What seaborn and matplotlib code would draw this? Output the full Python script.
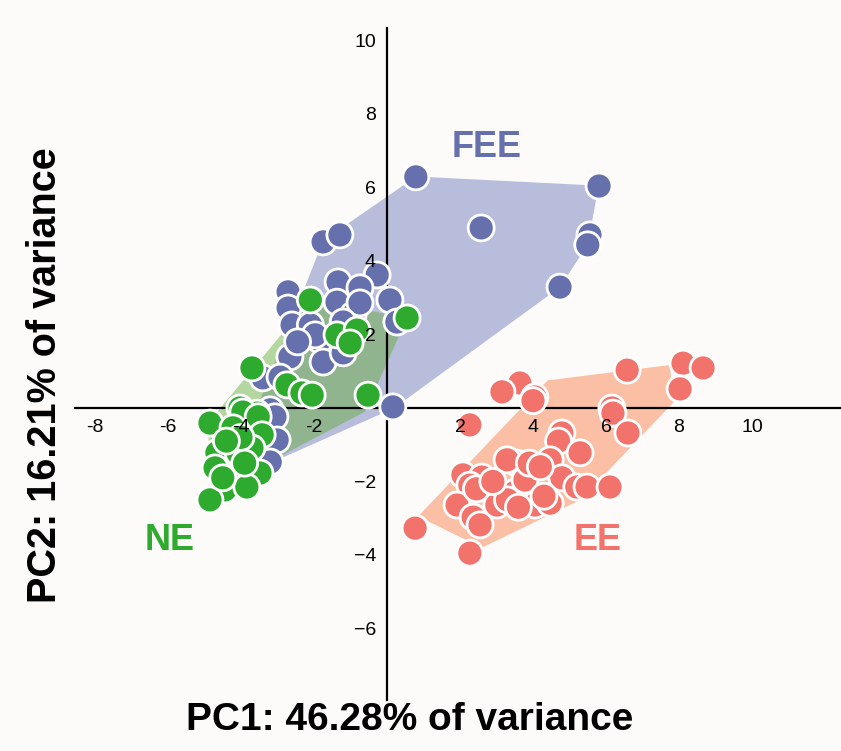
import numpy as np
import pandas as pd
import matplotlib
matplotlib.use("Agg")
import matplotlib.pyplot as plt
import seaborn as sns

# ---------------- data ----------------
fee_x = [0.79, 5.81, 2.58, 5.56, 5.50, 4.74, -1.75, -1.29, 0.16,
         -0.27, -1.34, -0.74, -2.71, 0.08, -1.37, -2.71, 0.27, -2.60, -0.93,
         -2.10, -1.84, -2.66, -1.75, -1.20, -3.40, -2.93, -3.20, -3.07, -3.01,
         -3.20, -0.74, -1.20, -1.97, -2.45]
fee_y = [6.29, 6.04, 4.90, 4.71, 4.44, 3.29, 4.52, 4.71, 0.03,
         3.62, 3.43, 3.27, 3.16, 2.94, 2.88, 2.72, 2.34, 2.26, 2.53,
         2.26, 1.85, 1.39, 1.25, 1.50, 0.82, 0.84, -0.05, -0.24, -0.87,
         -1.47, 2.86, 2.34, 1.99, 1.80]

ne_x = [-2.10, -1.37, -0.82, -1.01, 0.55, -3.70, -2.74, -2.33, -2.05, -0.52,
        -4.03, -3.56, -4.85, -3.95, -3.53, -4.22, -3.42, -4.66, -4.08, -3.70,
        -4.71, -3.84, -4.22, -3.48, -4.44, -3.84, -4.85, -4.00, -4.40, -3.90,
        -4.50]
ne_y = [2.94, 1.99, 2.12, 1.77, 2.45, 1.09, 0.63, 0.41, 0.35, 0.35,
        0.00, -0.14, -0.41, -0.11, -0.24, -0.54, -0.73, -1.22, -1.22, -1.09,
        -1.63, -1.69, -1.90, -1.77, -2.23, -2.15, -2.50, -0.80, -0.90, -1.50,
        -1.90]

ee_x = [3.64, 3.15, 4.05, 4.00, 2.27, 4.79, 4.70, 3.56, 3.29, 4.47,
        2.08, 2.60, 2.27, 4.79, 5.20, 3.51, 3.78, 1.92, 3.01, 2.36,
        2.55, 4.05, 4.47, 0.77, 2.27, 6.58, 8.11, 8.66, 8.03, 6.16,
        6.19, 6.60, 5.29, 5.48, 6.11, 2.45, 3.90, 4.20, 3.30, 2.90,
        4.30, 3.60]
ee_y = [0.68, 0.44, 0.30, 0.20, -0.46, -0.68, -0.90, -1.50, -1.41, -1.41,
        -1.82, -1.88, -2.10, -1.90, -2.15, -2.29, -1.96, -2.64, -2.64, -2.97,
        -3.18, -2.64, -2.59, -3.27, -3.95, 1.03, 1.22, 1.09, 0.52, 0.00,
        -0.14, -0.68, -1.22, -2.15, -2.15, -2.20, -1.50, -1.60, -2.50, -2.00,
        -2.40, -2.70]

# hull outlines
fee_hull_x = [0.80, 5.80, 5.50, 4.74, 0.20, -3.20, -3.60, -1.75]
fee_hull_y = [6.30, 6.05, 4.45, 3.29, 0.00, -1.50, -0.10, 4.55]
ne_hull_x = [-4.85, -4.90, -2.10, 0.55, -0.60, -3.10]
ne_hull_y = [-2.50, -0.40, 2.95, 2.45, -0.10, -1.40]
ee_hull_x = [0.85, 2.60, 5.30, 7.85, 7.75, 4.40]
ee_hull_y = [-2.95, -3.80, -2.50, 0.15, 1.17, 0.75]

groups = ["FEE", "NE", "EE"]
xticks = [-8, -6, -4, -2, 2, 4, 6, 8, 10]
yticks = [-6, -4, -2, 2, 4, 6, 8, 10]

df = pd.DataFrame({
    "PC1": fee_x + ne_x + ee_x,
    "PC2": fee_y + ne_y + ee_y,
    "group": ["FEE"] * len(fee_x) + ["NE"] * len(ne_x) + ["EE"] * len(ee_x),
})

# ---------------- style ----------------
sns.set_style("white")
plt.rcParams["font.family"] = ["Liberation Sans", "DejaVu Sans"]
bg = "#fdfbfa"
pal = {"FEE": "#6670AC", "NE": "#2EAA2E", "EE": "#F2736B"}

fig = plt.figure(figsize=(8.41, 7.51), dpi=100, facecolor=bg)
ax = fig.add_axes([75 / 841, 1 - 700 / 751, (841 - 75) / 841, (700 - 28) / 751])
ax.set_facecolor(bg)

# hulls
ax.fill(fee_hull_x, fee_hull_y, color="#B9BDDC", lw=0, zorder=1)
ax.fill(ne_hull_x, ne_hull_y, color="#5CAA30", alpha=0.45, lw=0, zorder=1.1)
ax.fill(ee_hull_x, ee_hull_y, color="#FBBFA5", lw=0, zorder=1)

sns.scatterplot(data=df, x="PC1", y="PC2", hue="group", palette=pal,
                hue_order=groups, s=350, edgecolor="white", linewidth=2.0,
                alpha=1, legend=False, ax=ax, zorder=3)

ax.set_xlim((75 - 387) / 36.5, (841 - 387) / 36.5)
ax.set_ylim((408 - 700) / 36.75, (408 - 28) / 36.75)

for s in ["top", "right"]:
    ax.spines[s].set_visible(False)
ax.spines["left"].set_position(("data", 0))
ax.spines["bottom"].set_position(("data", 0))
for s in ["left", "bottom"]:
    ax.spines[s].set_linewidth(1.6)
    ax.spines[s].set_color("black")
    ax.spines[s].set_zorder(2)

ax.set_xticks(xticks)
ax.set_yticks(yticks)
ax.set_xticklabels([str(t) for t in xticks])
ax.set_yticklabels([str(t).replace("-", "\u2212") for t in yticks])
ax.tick_params(axis="both", direction="out", length=5, width=1.2,
               labelsize=14, colors="black", pad=3)
ax.xaxis.set_zorder(5)
ax.yaxis.set_zorder(5)
ax.set_xlabel("")
ax.set_ylabel("")

# group labels
ax.text(2.74, 7.1, "FEE", color=pal["FEE"], fontsize=26, fontweight="bold",
        ha="center", va="center", zorder=6)
ax.text(-5.95, -3.6, "NE", color=pal["NE"], fontsize=26, fontweight="bold",
        ha="center", va="center", zorder=6)
ax.text(5.78, -3.6, "EE", color=pal["EE"], fontsize=26, fontweight="bold",
        ha="center", va="center", zorder=6)

fig.text(410 / 841, 1 - 720 / 751, "PC1: 46.28% of variance", fontsize=28,
         fontweight="bold", ha="center", va="center", color="black")
fig.text(45 / 841, 1 - 375 / 751, "PC2: 16.21% of variance", fontsize=28.5,
         fontweight="bold", ha="center", va="center", rotation=90,
         color="black")

fig.savefig("out.png", dpi=100, facecolor=bg)
